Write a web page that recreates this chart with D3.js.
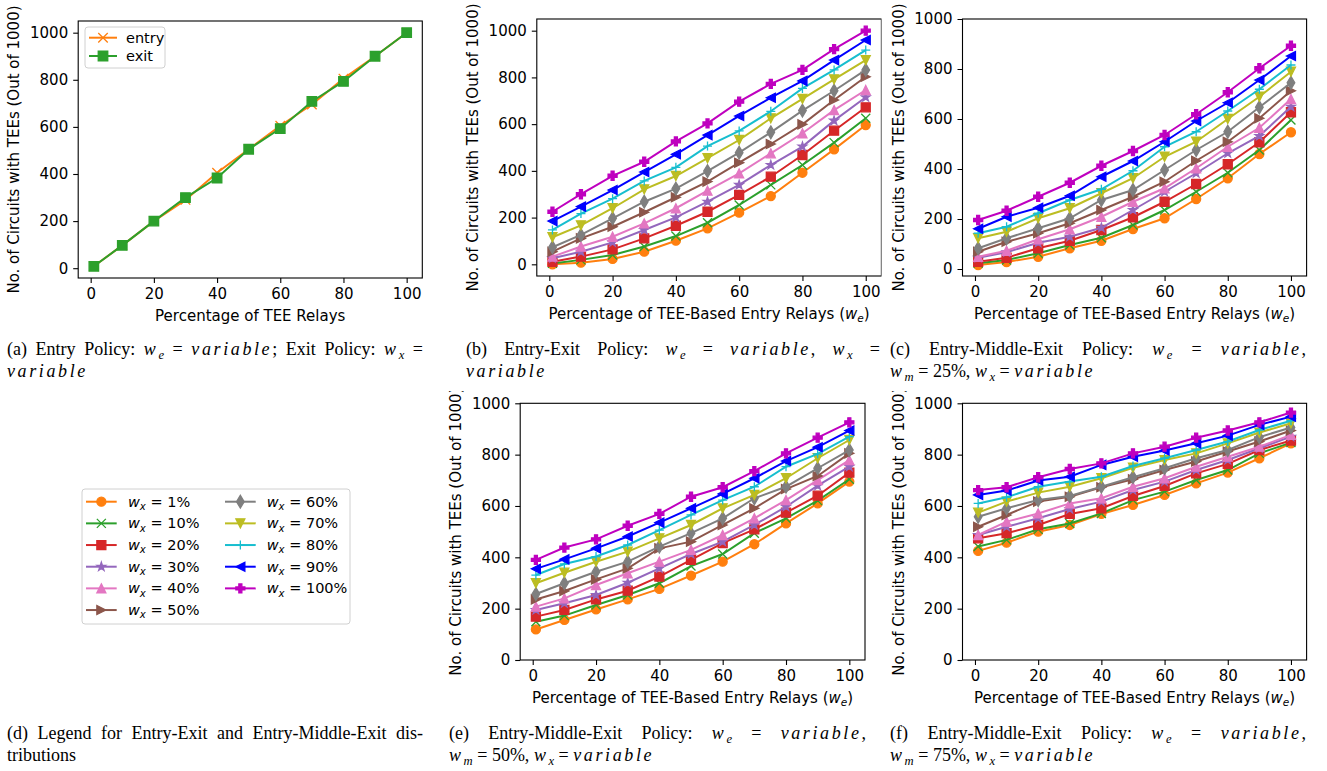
<!DOCTYPE html>
<html>
<head>
<meta charset="utf-8">
<script src="https://cdn.jsdelivr.net/npm/d3@7"></script>
<style>
  body { margin: 0; background: #fff; }
  svg { display: block; }
</style>
</head>
<body>
<div id="fig"></div>
<script>
// ---- data ---------------------------------------------------------------
const xValues = [1, 10, 20, 30, 40, 50, 60, 70, 80, 90, 100];
const wxLabels = ["1%", "10%", "20%", "30%", "40%", "50%", "60%", "70%", "80%", "90%", "100%"];
const xTicks = [0, 20, 40, 60, 80, 100];
const yTicks = [0, 200, 400, 600, 800, 1000];

// (a) entry / exit policy
const entryA = [8, 97, 200, 290, 405, 505, 605, 695, 805, 900, 1000];
const exitA  = [8, 97, 200, 300, 383, 505, 593, 708, 793, 900, 1000];

// rows follow wxLabels (1% ... 100%)
const panelB = [
  [0, 7, 23, 54, 101, 154, 221, 292, 392, 492, 596],
  [4, 19, 40, 76, 121, 178, 254, 340, 425, 521, 625],
  [11, 33, 64, 111, 165, 225, 297, 375, 468, 572, 672],
  [26, 54, 94, 147, 201, 268, 340, 425, 504, 615, 715],
  [33, 76, 118, 175, 240, 315, 389, 475, 561, 660, 746],
  [54, 111, 161, 223, 287, 354, 435, 515, 599, 703, 803],
  [73, 126, 197, 268, 324, 399, 478, 565, 658, 743, 832],
  [116, 167, 240, 321, 378, 454, 532, 625, 708, 792, 874],
  [147, 217, 281, 357, 415, 506, 571, 655, 753, 832, 917],
  [185, 247, 318, 395, 471, 553, 635, 713, 785, 874, 960],
  [225, 300, 379, 439, 526, 603, 696, 772, 832, 921, 1000]
];
const panelC = [
  [16, 28, 49, 83, 113, 160, 203, 280, 363, 460, 547],
  [23, 36, 63, 96, 125, 176, 236, 309, 385, 476, 596],
  [29, 45, 83, 113, 156, 207, 269, 340, 419, 507, 627],
  [45, 67, 105, 129, 165, 236, 309, 383, 463, 532, 649],
  [49, 73, 119, 159, 209, 269, 323, 403, 489, 565, 680],
  [69, 109, 143, 183, 236, 289, 349, 433, 509, 603, 713],
  [83, 123, 163, 203, 276, 316, 396, 476, 549, 647, 745],
  [123, 149, 203, 243, 303, 363, 449, 509, 600, 689, 789],
  [143, 169, 223, 276, 319, 393, 489, 549, 632, 719, 816],
  [161, 209, 245, 293, 369, 432, 509, 592, 665, 756, 852],
  [196, 233, 289, 345, 413, 472, 536, 619, 707, 803, 893]
];
const panelE = [
  [119, 156, 197, 236, 277, 329, 383, 451, 532, 610, 695],
  [149, 173, 214, 253, 299, 366, 413, 494, 552, 621, 704],
  [169, 195, 236, 270, 325, 390, 455, 509, 574, 640, 730],
  [195, 221, 253, 301, 357, 413, 461, 526, 597, 679, 753],
  [208, 240, 292, 338, 383, 429, 487, 552, 623, 701, 779],
  [236, 269, 314, 357, 435, 461, 526, 591, 666, 717, 805],
  [257, 299, 344, 383, 442, 494, 552, 630, 675, 747, 818],
  [299, 340, 383, 422, 474, 526, 591, 643, 708, 786, 857],
  [331, 374, 403, 448, 506, 565, 623, 675, 753, 803, 870],
  [355, 392, 435, 481, 535, 591, 647, 708, 775, 829, 894],
  [390, 438, 470, 523, 569, 636, 673, 736, 805, 866, 926]
];
const panelF = [
  [425, 457, 500, 526, 569, 604, 643, 688, 730, 786, 844],
  [442, 468, 509, 532, 571, 623, 656, 701, 740, 805, 847],
  [474, 494, 526, 569, 591, 639, 678, 727, 764, 818, 855],
  [487, 519, 552, 588, 617, 662, 695, 740, 779, 825, 870],
  [487, 539, 571, 610, 630, 675, 708, 753, 792, 831, 877],
  [519, 565, 617, 636, 673, 704, 740, 773, 812, 851, 894],
  [558, 591, 623, 639, 675, 712, 747, 786, 818, 868, 906],
  [574, 617, 652, 675, 708, 749, 779, 805, 844, 886, 922],
  [610, 634, 675, 695, 714, 756, 786, 818, 851, 896, 932],
  [643, 660, 699, 714, 760, 792, 816, 844, 874, 916, 948],
  [662, 673, 712, 744, 766, 805, 831, 866, 894, 926, 964]
];

const yLabelText = "No. of Circuits with TEEs (Out of 1000)";
const xLabelA = "Percentage of TEE Relays";
const xLabelW = "Percentage of TEE-Based Entry Relays ($w_e$)";

const captions = [
  {x: 7,   y: 355, w: 416, lines: ["(a) Entry Policy: $w_e$ = $variable$; Exit Policy: $w_x$ =", "$variable$"]},
  {x: 466, y: 355, w: 414, lines: ["(b) Entry-Exit Policy: $w_e$ = $variable$, $w_x$ =", "$variable$"]},
  {x: 890, y: 355, w: 416, lines: ["(c) Entry-Middle-Exit Policy: $w_e$ = $variable$,", "$w_m$ = 25%, $w_x$ = $variable$"]},
  {x: 7,   y: 739, w: 416, lines: ["(d) Legend for Entry-Exit and Entry-Middle-Exit dis-", "tributions"]},
  {x: 449, y: 739, w: 417, lines: ["(e) Entry-Middle-Exit Policy: $w_e$ = $variable$,", "$w_m$ = 50%, $w_x$ = $variable$"]},
  {x: 890, y: 739, w: 416, lines: ["(f) Entry-Middle-Exit Policy: $w_e$ = $variable$,", "$w_m$ = 75%, $w_x$ = $variable$"]}
];

// ---- styles -------------------------------------------------------------
const seriesStyle = [
  {color: "#ff7f0e", marker: "o"},
  {color: "#2ca02c", marker: "x"},
  {color: "#d62728", marker: "s"},
  {color: "#9467bd", marker: "*"},
  {color: "#e377c2", marker: "^"},
  {color: "#8c564b", marker: ">"},
  {color: "#7f7f7f", marker: "d"},
  {color: "#bcbd22", marker: "v"},
  {color: "#17becf", marker: "+"},
  {color: "#0000ff", marker: "<"},
  {color: "#bf00bf", marker: "P"}
];
const chartFont = "'DejaVu Sans', sans-serif";
const serifFont = "'Liberation Serif', 'Times New Roman', serif";
const tickSize = 15;

const W = 1327, H = 771;
const svg = d3.select("#fig").append("svg")
  .attr("width", W).attr("height", H)
  .attr("font-family", chartFont);

// ---- helpers ------------------------------------------------------------
// writes a string with $..$ math parts (italic letters, _x subscripts) into a text node
function mathText(t, str, fs, spacing) {
  const parts = str.split("$");
  const shift = fs * 0.22;
  let down = false;
  parts.forEach((p, i) => {
    if (i % 2 === 0) {
      if (!p) return;
      const ts = t.append("tspan").text(p);
      if (down) { ts.attr("dy", -shift); down = false; }
      return;
    }
    for (let k = 0; k < p.length; k++) {
      const c = p[k];
      if (c === "_") {
        const s = p[++k];
        t.append("tspan").attr("font-style", "italic")
          .attr("font-size", fs * 0.7).attr("dy", shift).text(s);
        down = true;
        continue;
      }
      const ts = t.append("tspan").text(c);
      if (/[a-zA-Z]/.test(c)) {
        ts.attr("font-style", "italic");
        if (spacing) ts.attr("letter-spacing", spacing);
      }
      if (down) { ts.attr("dy", -shift); down = false; }
    }
  });
  return t;
}

function markerPath(type, s) {
  const h = s / 2;
  switch (type) {
    case "o": return `M${h},0A${h},${h} 0 1,1 ${-h},0A${h},${h} 0 1,1 ${h},0Z`;
    case "s": return `M${-h},${-h}H${h}V${h}H${-h}Z`;
    case "^": return `M0,${-h}L${h},${h}L${-h},${h}Z`;
    case "v": return `M0,${h}L${h},${-h}L${-h},${-h}Z`;
    case ">": return `M${h},0L${-h},${-h}L${-h},${h}Z`;
    case "<": return `M${-h},0L${h},${-h}L${h},${h}Z`;
    case "d": { const a = s * 0.707, b = a * 0.6; return `M0,${-a}L${b},0L0,${a}L${-b},0Z`; }
    case "x": return `M${-h},${-h}L${h},${h}M${-h},${h}L${h},${-h}`;
    case "+": return `M${-h},0H${h}M0,${-h}V${h}`;
    case "P": {
      const u = s / 6;
      const pts = [[-1,-3],[1,-3],[1,-1],[3,-1],[3,1],[1,1],[1,3],[-1,3],[-1,1],[-3,1],[-3,-1],[-1,-1]];
      return "M" + pts.map(p => `${p[0]*u},${p[1]*u}`).join("L") + "Z";
    }
    case "*": {
      const r0 = h, r1 = h * 0.381966;
      const pts = d3.range(10).map(i => {
        const r = i % 2 ? r1 : r0, a = -Math.PI / 2 + i * Math.PI / 5;
        return `${r * Math.cos(a)},${r * Math.sin(a)}`;
      });
      return "M" + pts.join("L") + "Z";
    }
  }
}

function drawMarker(g, type, color, x, y, s) {
  const lineOnly = type === "x" || type === "+";
  g.append("path")
    .attr("transform", `translate(${x},${y})`)
    .attr("d", markerPath(type, s))
    .attr("fill", lineOnly ? "none" : color)
    .attr("stroke", color)
    .attr("stroke-width", 1.3)
    .attr("stroke-linejoin", "miter");
}

function drawPanel(p) {
  const g = svg.append("g");
  if (p.clip) {
    const id = "clip" + p.id;
    svg.append("clipPath").attr("id", id).append("rect")
      .attr("x", p.clip[0]).attr("y", p.clip[1]).attr("width", p.clip[2]).attr("height", p.clip[3]);
    g.attr("clip-path", `url(#${id})`);
  }
  const x = d3.scaleLinear().domain([-3.95, 104.95]).range([p.left, p.right]);
  const y = d3.scaleLinear().domain(p.ydom).range([p.bottom, p.top]);

  // axes
  const xa = g.append("g").attr("transform", `translate(0,${p.bottom})`)
    .call(d3.axisBottom(x).tickValues(xTicks).tickFormat(d3.format("d")).tickSize(5).tickPadding(5));
  const ya = g.append("g").attr("transform", `translate(${p.left},0)`)
    .call(d3.axisLeft(y).tickValues(yTicks).tickFormat(d3.format("d")).tickSize(5).tickPadding(5));
  [xa, ya].forEach(a => {
    a.select(".domain").remove();
    a.selectAll("line").attr("stroke", "#000").attr("stroke-width", 1.1);
    a.selectAll("text").attr("font-size", tickSize).attr("fill", "#000")
      .attr("font-family", chartFont);
  });

  // series
  const line = d3.line().x((d, i) => x(xValues[i])).y(d => y(d));
  const ms = p.ms || 9;
  p.series.forEach(s => {
    g.append("path").datum(s.values).attr("d", line)
      .attr("fill", "none").attr("stroke", s.color).attr("stroke-width", 2);
    const mg = g.append("g");
    s.values.forEach((v, i) => drawMarker(mg, s.marker, s.color, x(xValues[i]), y(v), ms));
  });

  // frame
  g.append("rect").attr("x", p.left).attr("y", p.top)
    .attr("width", p.right - p.left).attr("height", p.bottom - p.top)
    .attr("fill", "none").attr("stroke", "#000").attr("stroke-width", 1.1);

  // labels
  mathText(g.append("text").attr("x", (p.left + p.right) / 2).attr("y", p.bottom + 43)
    .attr("text-anchor", "middle").attr("font-size", tickSize), p.xlabel, tickSize);
  g.append("text")
    .attr("transform", `translate(${p.left - 59},${(p.top + p.bottom) / 2}) rotate(-90)`)
    .attr("text-anchor", "middle").attr("font-size", tickSize)
    .text(yLabelText);
  return {g, x, y};
}

function multiSeries(rows) {
  return rows.map((vals, i) => ({values: vals, color: seriesStyle[i].color, marker: seriesStyle[i].marker}));
}

// ---- panels -------------------------------------------------------------
const pa = drawPanel({
  id: "a", left: 78.2, right: 422.3, top: 21, bottom: 278, ydom: [-41.6, 1049.6],
  xlabel: xLabelA, ms: 9.5,
  series: [
    {values: entryA, color: "#ff7f0e", marker: "x"},
    {values: exitA, color: "#2ca02c", marker: "s"}
  ]
});
// legend of (a)
{
  const lg = pa.g.append("g");
  lg.append("rect").attr("x", 85).attr("y", 27).attr("width", 80).attr("height", 41)
    .attr("rx", 3).attr("fill", "#fff").attr("fill-opacity", 0.8)
    .attr("stroke", "#d0d0d0").attr("stroke-width", 1);
  [["entry", "#ff7f0e", "x", 37.7], ["exit", "#2ca02c", "s", 56]].forEach(([lab, c, m, yy]) => {
    lg.append("line").attr("x1", 89).attr("x2", 117).attr("y1", yy).attr("y2", yy)
      .attr("stroke", c).attr("stroke-width", 2);
    drawMarker(lg, m, c, 103, yy, 9.5);
    lg.append("text").attr("x", 126).attr("y", yy).attr("dy", "0.35em")
      .attr("font-size", 14.5).text(lab);
  });
}

drawPanel({id: "b", left: 536.8, right: 881.4, top: 19, bottom: 276, ydom: [-50, 1050],
  xlabel: xLabelW, series: multiSeries(panelB), clip: [440, 0, 441.5, 340]});
drawPanel({id: "c", left: 962.5, right: 1306.6, top: 19, bottom: 276, ydom: [-28, 1000],
  xlabel: xLabelW, series: multiSeries(panelC), clip: [882.5, 0, 444.5, 340]});
drawPanel({id: "e", left: 520.2, right: 865, top: 403.3, bottom: 660, ydom: [0, 1000],
  xlabel: xLabelW, series: multiSeries(panelE), clip: [430, 391, 450, 330]});
drawPanel({id: "f", left: 962.5, right: 1306.6, top: 403.3, bottom: 660, ydom: [0, 1000],
  xlabel: xLabelW, series: multiSeries(panelF), clip: [880, 391, 447, 330]});

// ---- (d) legend ---------------------------------------------------------
{
  const lg = svg.append("g");
  lg.append("rect").attr("x", 82).attr("y", 489).attr("width", 268).attr("height", 135)
    .attr("rx", 3).attr("fill", "#fff").attr("stroke", "#d0d0d0").attr("stroke-width", 1);
  wxLabels.forEach((lab, i) => {
    const col = i < 6 ? 0 : 1, row = i < 6 ? i : i - 6;
    const hx = col ? 225 : 86, tx = col ? 266.7 : 128;
    const yy = 501.7 + row * 21.67;
    const st = seriesStyle[i];
    lg.append("line").attr("x1", hx).attr("x2", hx + 30.7).attr("y1", yy).attr("y2", yy)
      .attr("stroke", st.color).attr("stroke-width", 2);
    drawMarker(lg, st.marker, st.color, hx + 15.35, yy, 9);
    mathText(lg.append("text").attr("x", tx).attr("y", yy).attr("dy", "0.35em")
      .attr("font-size", 14.5), `$w_x$ = ${lab}`, 14.5);
  });
}

// ---- captions (justified like the paper) --------------------------------
const capSize = 18;
captions.forEach(c => {
  const g = svg.append("g").attr("font-family", serifFont).attr("fill", "#000");
  c.lines.forEach((ln, li) => {
    const yy = c.y + li * 22;
    const words = ln.split(" ");
    const nodes = words.map(w => mathText(g.append("text").attr("y", yy).attr("font-size", capSize), w, capSize, 2.6));
    const widths = nodes.map(n => n.node().getComputedTextLength());
    const total = d3.sum(widths);
    const last = li === c.lines.length - 1;
    const gap = (!last && words.length > 1) ? (c.w - total) / (words.length - 1) : capSize * 0.25;
    let cx = c.x;
    nodes.forEach((n, i) => { n.attr("x", cx); cx += widths[i] + gap; });
  });
});
</script>
</body>
</html>
